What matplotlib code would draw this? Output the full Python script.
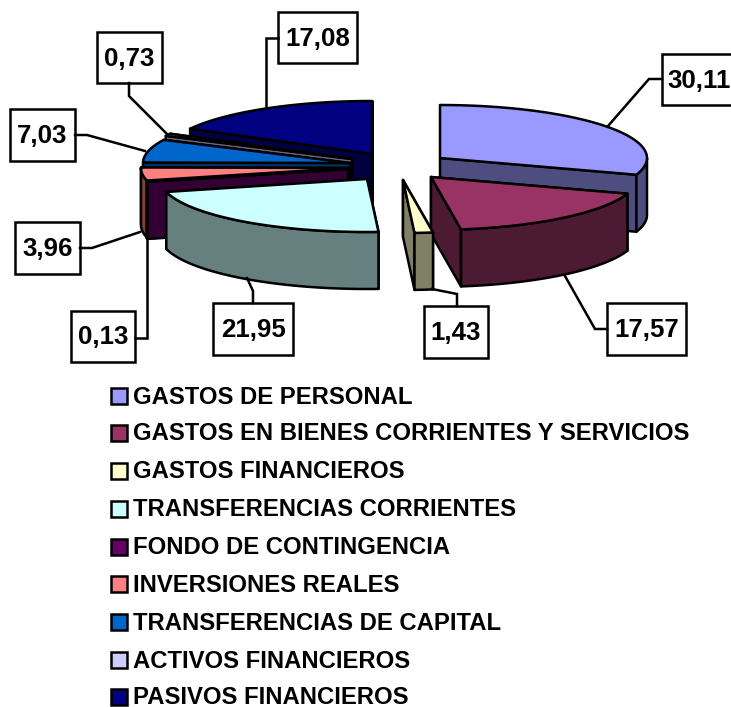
import numpy as np
import matplotlib
matplotlib.use("Agg")
import matplotlib.pyplot as plt
from matplotlib.patches import Polygon, Rectangle

plt.rcParams['font.family'] = ['Liberation Sans', 'DejaVu Sans']

categorias = ["GASTOS DE PERSONAL", "GASTOS EN BIENES CORRIENTES Y SERVICIOS",
              "GASTOS FINANCIEROS", "TRANSFERENCIAS CORRIENTES",
              "FONDO DE CONTINGENCIA", "INVERSIONES REALES",
              "TRANSFERENCIAS DE CAPITAL", "ACTIVOS FINANCIEROS",
              "PASIVOS FINANCIEROS"]
valores = [30.11, 17.57, 1.43, 21.95, 0.13, 3.96, 7.03, 0.73, 17.08]

colores = ["#9999FF", "#993366", "#FFFFCC", "#CCFFFF", "#660066",
           "#FF8080", "#0066CC", "#CCCCFF", "#000080"]
sombras = ["#4D4D80", "#4D1A33", "#808066", "#668080", "#330033",
           "#804040", "#003366", "#666680", "#000040"]

# vertice de cada porcion, ya separada del centro (pixeles)
vertices = [(440, 158), (431, 177), (403, 180), (367, 179), (348, 169),
            (348, 168), (350, 163), (352, 159), (372, 154)]
RX, RY, ALTO = 207, 53, 57
LW = 1.8

# orden de pintado: de atras hacia delante
orden = [8, 7, 6, 5, 4, 0, 1, 2, 3]

# caja de cada etiqueta (x0, y0, x1, y1)
cajas = [(662, 54, 737, 105), (607, 303, 686, 355), (424, 306, 488, 358),
         (213, 303, 293, 355), (71, 311, 135, 362), (15, 222, 80, 274),
         (10, 109, 75, 161), (97, 32, 162, 83), (278, 12, 357, 63)]
guias = [[(662, 79), (649, 79), (608, 126)],
         [(607, 329), (595, 329), (565, 276)],
         [(457, 306), (457, 294), (432, 289)],
         [(253, 303), (253, 291), (247, 278)],
         [(135, 338), (147, 338), (147, 240)],
         [(80, 248), (92, 248), (140, 232)],
         [(75, 135), (87, 135), (145, 151)],
         [(129, 83), (129, 96), (168, 135)],
         [(278, 38), (266, 38), (266, 108)]]

ley_y = [396, 433, 471, 509, 547, 584, 622, 660, 697]
ley_txt_y = [397, 434, 472, 510, 548, 585, 623, 661, 697]


def punto(v, ang):
    return (v[0] + RX * np.sin(ang), v[1] - RY * np.cos(ang))


def cara(ax, pts, color):
    ax.add_patch(Polygon(pts, closed=True, facecolor=color, edgecolor='black',
                         linewidth=LW, joinstyle='round'))


def bajar(pts):
    return [(x, y + ALTO) for x, y in pts]


fig = plt.figure(figsize=(7.31, 7.07), dpi=100)
ax = fig.add_axes([0, 0, 1, 1])
ax.set_xlim(0, 731)
ax.set_ylim(707, 0)
ax.axis('off')

angulos = np.radians(np.concatenate([[0], np.cumsum(valores)]) / sum(valores) * 360)

for i in orden:
    a, b = angulos[i], angulos[i + 1]
    v = vertices[i]
    arco = [punto(v, t) for t in np.linspace(a, b, 60)]

    # caras de corte: primero las ocultas
    caras = [(np.sin(a) < 0, punto(v, a)), (np.sin(b) > 0, punto(v, b))]
    for visible, p in sorted(caras, key=lambda c: c[0]):
        arista = [v, p]
        cara(ax, arista + bajar(arista)[::-1], sombras[i])

    # lateral exterior, solo la parte que mira al frente
    ini, fin = max(a, np.pi / 2), min(b, 3 * np.pi / 2)
    if fin > ini:
        lat = [punto(v, t) for t in np.linspace(ini, fin, 60)]
        cara(ax, lat + bajar(lat)[::-1], sombras[i])

    cara(ax, [v] + arco, colores[i])

# etiquetas con guia
for valor, caja, guia in zip(valores, cajas, guias):
    ax.plot(*zip(*guia), color='black', lw=LW, solid_joinstyle='miter')
    x0, y0, x1, y1 = caja
    ax.add_patch(Rectangle((x0, y0), x1 - x0, y1 - y0, facecolor='white',
                           edgecolor='black', linewidth=LW, clip_on=True))
    ax.text((x0 + x1) / 2, (y0 + y1) / 2 + 1, f"{valor:.2f}".replace('.', ','),
            ha='center', va='center', fontsize=18.6, fontweight='bold')

# leyenda
for nombre, color, y, yt in zip(categorias, colores, ley_y, ley_txt_y):
    ax.add_patch(Rectangle((110.5, y - 8), 16, 16, facecolor=color,
                           edgecolor='black', linewidth=LW))
    ax.text(133, yt, nombre, ha='left', va='center', fontsize=17.2,
            fontweight='bold')

fig.savefig('out.png', dpi=100)
